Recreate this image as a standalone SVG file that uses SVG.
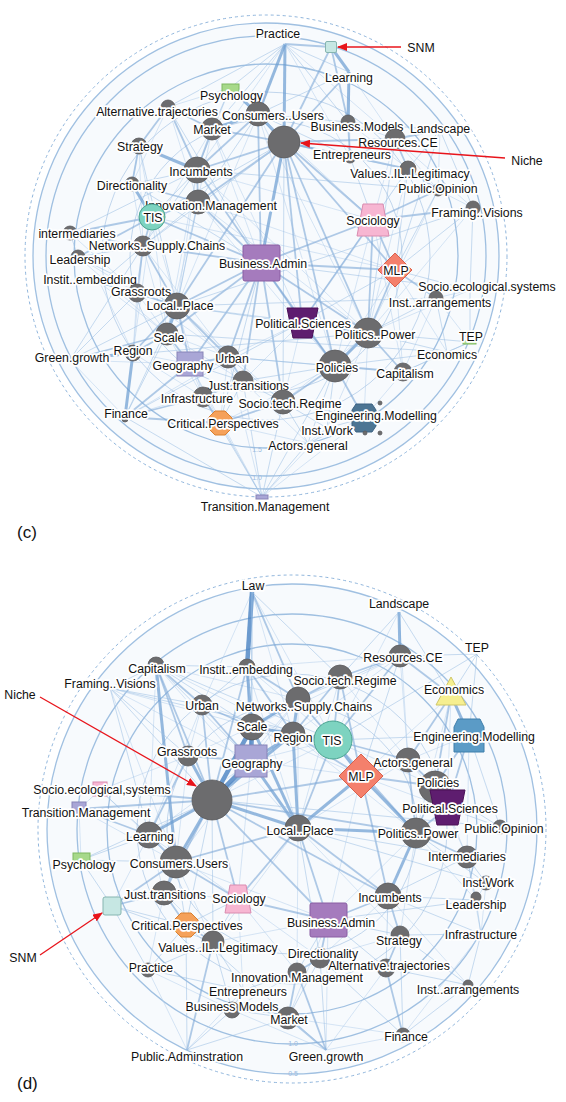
<svg xmlns="http://www.w3.org/2000/svg" width="566" height="1102" viewBox="0 0 566 1102">
<defs>
<marker id="ah" markerWidth="10" markerHeight="8" refX="9" refY="4" orient="auto" markerUnits="userSpaceOnUse"><path d="M0,0 L10,4 L0,8 Z" fill="#e8141b"/></marker>
<style>
.bg{fill:#f7fafd}
.rd{fill:none;stroke:#8fb5dc;stroke-width:1;stroke-dasharray:3 3}
.rs{fill:none;stroke:#8fb5dc;stroke-width:1.3;opacity:.85}
.rf{fill:none;stroke:#a9c6e6;stroke-width:1;opacity:.7}
.e0{stroke:#b3cfec;stroke-width:.8;opacity:.65}
.e1{stroke:#9cbfe4;stroke-width:.9;opacity:.6}
.e2{stroke:#7fa9d8;stroke-width:1.8;opacity:.6}
.e3{stroke:#6b9dd2;stroke-width:3;opacity:.7}
.e4{stroke:#4a83c3;stroke-width:4.5;opacity:.8}
.g{fill:#6c6c6e;stroke:#5b5b5d;stroke-width:.8}
.t{font-family:"Liberation Sans",Arial,sans-serif;font-size:12.3px;fill:#111;text-anchor:middle;stroke:#fff;stroke-width:3.5;stroke-linejoin:round;paint-order:stroke}
.a{font-family:"Liberation Sans",Arial,sans-serif;font-size:12.3px;fill:#111;text-anchor:middle}
.p{font-family:"Liberation Sans",Arial,sans-serif;font-size:17px;fill:#111}
.k{font-family:"Liberation Sans",Arial,sans-serif;font-size:7px;fill:#9bbbe0;text-anchor:middle}
.arr{stroke:#e8141b;stroke-width:1.3;fill:none;marker-end:url(#ah)}
.tis{fill:#7dd3c0;stroke:#4aa390}
.mlp{fill:#f4806c;stroke:#d9604c}
.ba{fill:#a57bbd;stroke:#8a5ea3}
.soc{fill:#f7b6d2;stroke:#d98cb0}
.geo{fill:#a9a6d6;stroke:#8884b8}
.pols{fill:#5e1d6f;stroke:#4a1057}
.crit{fill:#f5a15a;stroke:#d98030}
.snm{fill:#c6e7e3;stroke:#86b5b0}
.psy{fill:#a7d98a;stroke:#7fb860}
</style>
</defs>
<rect width="566" height="1102" fill="#fff"/>

<g id="rings-c">
<circle class="bg" cx="266" cy="256" r="233"/>
<circle class="rd" cx="266" cy="256" r="241"/>
<circle class="rs" cx="266" cy="256" r="233"/>
<circle class="rs" cx="266" cy="256" r="220"/>
<circle class="rs" cx="266" cy="256" r="192"/>
<circle class="rf" cx="266" cy="256" r="164"/>
<circle class="rf" cx="266" cy="256" r="136"/>
<text class="k" x="257" y="452">1.5</text>
<text class="k" x="257" y="480">1.0</text>
</g>
<g id="rings-d">
<circle class="bg" cx="292" cy="829" r="245"/>
<circle class="rd" cx="292" cy="829" r="254"/>
<circle class="rs" cx="292" cy="829" r="245"/>
<circle class="rs" cx="292" cy="829" r="215"/>
<circle class="rs" cx="292" cy="829" r="185"/>
<circle class="rf" cx="292" cy="829" r="155"/>
<circle class="rf" cx="292" cy="829" r="125"/>
<text class="k" x="293" y="1046">1.0</text>
<text class="k" x="293" y="1076">0.5</text>
</g>

<g id="connectors-c">
<path class="e0" fill="none" d="M258,114L177,306M258,114L368,333M258,114L335,366M258,114L373,220M212,129L261,263M212,129L177,306M212,129L143,246M212,129L302,322M197,170L177,306M197,170L368,333M197,170L167,334M197,170L373,220M198,202L368,333M198,202L335,366M198,202L395,270M198,202L167,334M152,217L177,306M152,217L167,334M152,217L133,353M152,217L395,270M143,246L167,334M143,246L133,353M143,246L228,357M137,293L167,334M137,293L133,353M137,293L228,357M177,306L243,381M177,306L203,397M177,306L283,402M167,334L228,357M167,334L243,381M167,334L203,397M133,353L190,364M133,353L203,397M190,364L203,397M190,364L220,423M228,357L220,423M228,357L302,322M243,381L302,322M283,402L368,333M283,402L302,322M283,402L364,418M220,423L335,366M302,322L408,169M368,333L408,169M368,333L364,418M335,366L373,220M335,366L395,270M395,270L403,372M395,270L447,352M373,220L408,169M373,220L395,139M373,220L403,372M395,139L438,190M395,139L473,208M348,122L395,139M348,122L408,169M349,72L395,139M349,72L350,157M168,107L132,184M168,107L198,202M230,88L168,107M230,88L284,142M139,146L152,217M139,146L143,246M132,184L143,246M70,233L137,293M78,257L137,293M78,257L167,334M100,283L133,353M100,283L167,334M70,360L125,417M70,360L190,364M125,417L228,357M125,417L243,381M262,497L228,357M262,497L190,364M262,497L327,428M262,497L364,418M308,443L327,428M308,443L220,423M308,443L243,381M364,418L403,372M327,428L368,333M403,372L447,352M403,372L436,298M470,342L436,298M470,290L436,298M470,290L368,333M473,208L438,190M473,208L368,333M438,190L368,333M440,130L438,190M285,44L395,139M285,44L350,157M285,44L197,170"/>
<line class="e3" x1="285" y1="44" x2="284" y2="142"/>
<line class="e3" x1="285" y1="44" x2="258" y2="114"/>
<line class="e2" x1="285" y1="44" x2="331" y2="47"/>
<line class="e3" x1="331" y1="47" x2="349" y2="72"/>
<line class="e2" x1="331" y1="47" x2="284" y2="142"/>
<line class="e2" x1="331" y1="47" x2="348" y2="122"/>
<line class="e3" x1="349" y1="72" x2="348" y2="122"/>
<line class="e2" x1="348" y1="122" x2="350" y2="157"/>
<line class="e2" x1="349" y1="72" x2="284" y2="142"/>
<line class="e3" x1="284" y1="142" x2="261" y2="263"/>
<line class="e3" x1="284" y1="142" x2="258" y2="114"/>
<line class="e2" x1="284" y1="142" x2="197" y2="170"/>
<line class="e2" x1="284" y1="142" x2="198" y2="202"/>
<line class="e2" x1="284" y1="142" x2="395" y2="139"/>
<line class="e2" x1="284" y1="142" x2="350" y2="157"/>
<line class="e2" x1="284" y1="142" x2="408" y2="169"/>
<line class="e2" x1="284" y1="142" x2="212" y2="129"/>
<line class="e2" x1="284" y1="142" x2="373" y2="220"/>
<line class="e2" x1="284" y1="142" x2="302" y2="322"/>
<line class="e2" x1="284" y1="142" x2="335" y2="366"/>
<line class="e2" x1="284" y1="142" x2="395" y2="270"/>
<line class="e2" x1="284" y1="142" x2="177" y2="306"/>
<line class="e2" x1="284" y1="142" x2="368" y2="333"/>
<line class="e1" x1="284" y1="142" x2="283" y2="402"/>
<line class="e1" x1="284" y1="142" x2="152" y2="217"/>
<line class="e1" x1="284" y1="142" x2="143" y2="246"/>
<line class="e3" x1="258" y1="114" x2="212" y2="129"/>
<line class="e3" x1="258" y1="114" x2="230" y2="88"/>
<line class="e2" x1="258" y1="114" x2="197" y2="170"/>
<line class="e3" x1="197" y1="170" x2="139" y2="146"/>
<line class="e2" x1="197" y1="170" x2="168" y2="107"/>
<line class="e2" x1="197" y1="170" x2="198" y2="202"/>
<line class="e2" x1="198" y1="202" x2="132" y2="184"/>
<line class="e2" x1="198" y1="202" x2="152" y2="217"/>
<line class="e3" x1="152" y1="217" x2="132" y2="184"/>
<line class="e2" x1="152" y1="217" x2="143" y2="246"/>
<line class="e2" x1="152" y1="217" x2="70" y2="233"/>
<line class="e2" x1="152" y1="217" x2="78" y2="257"/>
<line class="e2" x1="132" y1="184" x2="139" y2="146"/>
<line class="e2" x1="168" y1="107" x2="139" y2="146"/>
<line class="e2" x1="168" y1="107" x2="212" y2="129"/>
<line class="e2" x1="143" y1="246" x2="137" y2="293"/>
<line class="e2" x1="143" y1="246" x2="177" y2="306"/>
<line class="e3" x1="177" y1="306" x2="167" y2="334"/>
<line class="e2" x1="177" y1="306" x2="137" y2="293"/>
<line class="e2" x1="177" y1="306" x2="261" y2="263"/>
<line class="e2" x1="167" y1="334" x2="133" y2="353"/>
<line class="e2" x1="167" y1="334" x2="190" y2="364"/>
<line class="e3" x1="133" y1="353" x2="70" y2="360"/>
<line class="e3" x1="133" y1="353" x2="125" y2="417"/>
<line class="e2" x1="125" y1="417" x2="190" y2="364"/>
<line class="e2" x1="190" y1="364" x2="228" y2="357"/>
<line class="e2" x1="228" y1="357" x2="243" y2="381"/>
<line class="e2" x1="243" y1="381" x2="203" y2="397"/>
<line class="e2" x1="203" y1="397" x2="220" y2="423"/>
<line class="e2" x1="220" y1="423" x2="283" y2="402"/>
<line class="e2" x1="283" y1="402" x2="335" y2="366"/>
<line class="e3" x1="335" y1="366" x2="368" y2="333"/>
<line class="e3" x1="368" y1="333" x2="302" y2="322"/>
<line class="e2" x1="302" y1="322" x2="261" y2="263"/>
<line class="e2" x1="302" y1="322" x2="373" y2="220"/>
<line class="e2" x1="373" y1="220" x2="395" y2="270"/>
<line class="e2" x1="373" y1="220" x2="368" y2="333"/>
<line class="e2" x1="395" y1="270" x2="368" y2="333"/>
<line class="e2" x1="395" y1="270" x2="436" y2="298"/>
<line class="e1" x1="395" y1="270" x2="470" y2="290"/>
<line class="e2" x1="373" y1="220" x2="473" y2="208"/>
<line class="e2" x1="373" y1="220" x2="438" y2="190"/>
<line class="e2" x1="408" y1="169" x2="438" y2="190"/>
<line class="e2" x1="395" y1="139" x2="440" y2="130"/>
<line class="e2" x1="395" y1="139" x2="408" y2="169"/>
<line class="e2" x1="368" y1="333" x2="403" y2="372"/>
<line class="e2" x1="335" y1="366" x2="403" y2="372"/>
<line class="e2" x1="335" y1="366" x2="364" y2="418"/>
<line class="e1" x1="364" y1="418" x2="327" y2="428"/>
<line class="e1" x1="364" y1="418" x2="308" y2="443"/>
<line class="e1" x1="262" y1="497" x2="220" y2="423"/>
<line class="e1" x1="262" y1="497" x2="308" y2="443"/>
<line class="e1" x1="262" y1="497" x2="283" y2="402"/>
<line class="e1" x1="262" y1="497" x2="203" y2="397"/>
<line class="e1" x1="262" y1="497" x2="125" y2="417"/>
<line class="e1" x1="262" y1="497" x2="243" y2="381"/>
<line class="e1" x1="262" y1="497" x2="335" y2="366"/>
<line class="e1" x1="70" y1="360" x2="143" y2="246"/>
<line class="e1" x1="70" y1="360" x2="177" y2="306"/>
<line class="e2" x1="70" y1="360" x2="167" y2="334"/>
<line class="e1" x1="70" y1="360" x2="137" y2="293"/>
<line class="e2" x1="125" y1="417" x2="220" y2="423"/>
<line class="e2" x1="125" y1="417" x2="203" y2="397"/>
<line class="e1" x1="125" y1="417" x2="177" y2="306"/>
<line class="e1" x1="125" y1="417" x2="167" y2="334"/>
<line class="e2" x1="261" y1="263" x2="228" y2="357"/>
<line class="e2" x1="261" y1="263" x2="335" y2="366"/>
<line class="e2" x1="261" y1="263" x2="368" y2="333"/>
<line class="e2" x1="261" y1="263" x2="198" y2="202"/>
<line class="e2" x1="261" y1="263" x2="143" y2="246"/>
<line class="e2" x1="261" y1="263" x2="190" y2="364"/>
<line class="e2" x1="261" y1="263" x2="243" y2="381"/>
<line class="e2" x1="261" y1="263" x2="283" y2="402"/>
<line class="e2" x1="261" y1="263" x2="258" y2="114"/>
<line class="e2" x1="261" y1="263" x2="395" y2="270"/>
<line class="e2" x1="261" y1="263" x2="373" y2="220"/>
<line class="e2" x1="261" y1="263" x2="197" y2="170"/>
<line class="e2" x1="261" y1="263" x2="152" y2="217"/>
<line class="e1" x1="261" y1="263" x2="220" y2="423"/>
<line class="e2" x1="261" y1="263" x2="167" y2="334"/>
<line class="e2" x1="177" y1="306" x2="228" y2="357"/>
<line class="e2" x1="177" y1="306" x2="190" y2="364"/>
<line class="e2" x1="177" y1="306" x2="133" y2="353"/>
<line class="e1" x1="190" y1="364" x2="243" y2="381"/>
<line class="e1" x1="403" y1="372" x2="470" y2="342"/>
<line class="e1" x1="447" y1="352" x2="368" y2="333"/>
<line class="e1" x1="447" y1="352" x2="470" y2="342"/>
<line class="e1" x1="447" y1="352" x2="335" y2="366"/>
<line class="e1" x1="436" y1="298" x2="368" y2="333"/>
<line class="e1" x1="436" y1="298" x2="447" y2="352"/>
<line class="e1" x1="470" y1="290" x2="470" y2="342"/>
<line class="e1" x1="473" y1="208" x2="470" y2="290"/>
<line class="e1" x1="473" y1="208" x2="395" y2="270"/>
<line class="e1" x1="438" y1="190" x2="395" y2="270"/>
<line class="e1" x1="78" y1="257" x2="143" y2="246"/>
<line class="e1" x1="70" y1="233" x2="143" y2="246"/>
<line class="e2" x1="100" y1="283" x2="137" y2="293"/>
<line class="e1" x1="100" y1="283" x2="143" y2="246"/>
<line class="e1" x1="100" y1="283" x2="177" y2="306"/>
<line class="e1" x1="78" y1="257" x2="70" y2="233"/>
<line class="e1" x1="440" y1="130" x2="473" y2="208"/>
<line class="e1" x1="440" y1="130" x2="348" y2="122"/>
<line class="e1" x1="440" y1="130" x2="408" y2="169"/>
<line class="e1" x1="285" y1="44" x2="212" y2="129"/>
<line class="e1" x1="285" y1="44" x2="230" y2="88"/>
<line class="e1" x1="285" y1="44" x2="349" y2="72"/>
<line class="e1" x1="285" y1="44" x2="348" y2="122"/>
<line class="e1" x1="285" y1="44" x2="168" y2="107"/>
<line class="e1" x1="230" y1="88" x2="212" y2="129"/>
<line class="e1" x1="230" y1="88" x2="197" y2="170"/>
<line class="e1" x1="258" y1="114" x2="198" y2="202"/>
<line class="e1" x1="258" y1="114" x2="348" y2="122"/>
<line class="e1" x1="258" y1="114" x2="350" y2="157"/>
<line class="e1" x1="258" y1="114" x2="349" y2="72"/>
<line class="e2" x1="212" y1="129" x2="197" y2="170"/>
<line class="e1" x1="197" y1="170" x2="132" y2="184"/>
<line class="e1" x1="197" y1="170" x2="152" y2="217"/>
<line class="e1" x1="197" y1="170" x2="143" y2="246"/>
<line class="e1" x1="198" y1="202" x2="143" y2="246"/>
<line class="e1" x1="198" y1="202" x2="177" y2="306"/>
<line class="e1" x1="139" y1="146" x2="132" y2="184"/>
<line class="e1" x1="308" y1="443" x2="335" y2="366"/>
<line class="e1" x1="308" y1="443" x2="283" y2="402"/>
<line class="e1" x1="327" y1="428" x2="283" y2="402"/>
<line class="e1" x1="327" y1="428" x2="335" y2="366"/>
<line class="e1" x1="243" y1="381" x2="283" y2="402"/>
<line class="e1" x1="243" y1="381" x2="335" y2="366"/>
<line class="e1" x1="228" y1="357" x2="335" y2="366"/>
<line class="e1" x1="228" y1="357" x2="283" y2="402"/>
<line class="e1" x1="220" y1="423" x2="243" y2="381"/>
<line class="e2" x1="302" y1="322" x2="335" y2="366"/>
<line class="e1" x1="302" y1="322" x2="395" y2="270"/>
<line class="e1" x1="302" y1="322" x2="177" y2="306"/>
<line class="e1" x1="368" y1="333" x2="177" y2="306"/>
<line class="e1" x1="368" y1="333" x2="395" y2="139"/>
<line class="e1" x1="408" y1="169" x2="395" y2="270"/>
<line class="e1" x1="350" y1="157" x2="395" y2="139"/>
<line class="e1" x1="350" y1="157" x2="373" y2="220"/>
<line class="e1" x1="350" y1="157" x2="408" y2="169"/>
<line class="e1" x1="473" y1="208" x2="177" y2="306"/>
<line class="e1" x1="438" y1="190" x2="197" y2="170"/>
<line class="e1" x1="470" y1="290" x2="261" y2="263"/>
<line class="e1" x1="436" y1="298" x2="177" y2="306"/>
<line class="e1" x1="403" y1="372" x2="228" y2="357"/>
<line class="e1" x1="447" y1="352" x2="167" y2="334"/>
<line class="e1" x1="78" y1="257" x2="177" y2="306"/>
<line class="e1" x1="70" y1="233" x2="197" y2="170"/>
<line class="e1" x1="70" y1="360" x2="368" y2="333"/>
<line class="e1" x1="125" y1="417" x2="302" y2="322"/>
<line class="e1" x1="132" y1="184" x2="261" y2="263"/>
<line class="e1" x1="168" y1="107" x2="261" y2="263"/>
<line class="e1" x1="139" y1="146" x2="177" y2="306"/>
<line class="e1" x1="440" y1="130" x2="395" y2="270"/>
<line class="e1" x1="470" y1="342" x2="368" y2="333"/>
</g>

<g id="connectors-d">
<path class="e0" fill="none" d="M252,592L333,740M252,592L293,734M252,592L202,705M399,612L333,740M399,612L408,760M400,656L408,760M400,656L293,734M400,656L252,727M400,656L247,667M156,665L298,699M156,665L293,734M156,665L298,828M156,665L149,835M110,688L252,727M110,688L251,761M110,688L176,862M247,667L333,740M247,667L298,828M340,677L408,760M340,677L252,727M340,677L298,828M298,699L251,761M298,699L361,776M298,699L212,800M298,699L298,828M202,705L293,734M202,705L188,756M202,705L149,835M252,727L188,756M252,727L361,776M293,734L416,833M333,740L251,761M333,740L212,800M333,740L435,786M451,695L361,776M451,695L416,833M451,695L447,808M469,735L408,760M469,735L467,857M408,760L447,808M408,760L298,828M361,776L251,761M361,776L328,920M361,776L447,808M435,786L467,857M251,761L149,835M251,761L176,862M251,761L238,899M188,756L176,862M188,756L100,790M100,790L79,809M100,790L176,862M79,809L176,862M79,809L81,860M149,835L164,893M149,835L112,906M149,835L238,899M176,862L213,942M176,862L328,920M164,893L238,899M164,893L213,942M164,893L148,970M238,899L320,958M238,899L297,972M238,899L243,990M298,828L297,972M298,828L400,935M298,828L213,942M416,833L328,920M416,833L400,935M416,833L476,900M447,808L467,857M467,857L481,934M486,883L476,900M486,883L481,934M388,896L320,958M388,896L468,985M328,920L288,1018M328,920L326,1050M328,920L213,942M320,958L386,968M320,958L400,935M297,972L232,1010M288,1018L403,1035M326,1050L403,1035M326,1050L232,1010M187,1050L148,970M187,1050L243,990M148,970L232,1010M386,968L326,1050M403,1035L481,934"/>
<line class="e4" x1="252" y1="592" x2="247" y2="667"/>
<line class="e2" x1="252" y1="592" x2="298" y2="699"/>
<line class="e1" x1="252" y1="592" x2="340" y2="677"/>
<line class="e1" x1="252" y1="592" x2="251" y2="761"/>
<line class="e1" x1="252" y1="592" x2="252" y2="727"/>
<line class="e3" x1="399" y1="612" x2="400" y2="656"/>
<line class="e1" x1="399" y1="612" x2="340" y2="677"/>
<line class="e1" x1="399" y1="612" x2="451" y2="695"/>
<line class="e2" x1="400" y1="656" x2="340" y2="677"/>
<line class="e2" x1="400" y1="656" x2="451" y2="695"/>
<line class="e2" x1="400" y1="656" x2="333" y2="740"/>
<line class="e1" x1="400" y1="656" x2="298" y2="699"/>
<line class="e1" x1="400" y1="656" x2="361" y2="776"/>
<line class="e1" x1="477" y1="654" x2="451" y2="695"/>
<line class="e1" x1="477" y1="654" x2="469" y2="735"/>
<line class="e1" x1="477" y1="654" x2="400" y2="656"/>
<line class="e1" x1="477" y1="654" x2="333" y2="740"/>
<line class="e2" x1="156" y1="665" x2="188" y2="756"/>
<line class="e3" x1="156" y1="665" x2="176" y2="862"/>
<line class="e2" x1="156" y1="665" x2="202" y2="705"/>
<line class="e2" x1="156" y1="665" x2="212" y2="800"/>
<line class="e1" x1="156" y1="665" x2="252" y2="727"/>
<line class="e1" x1="156" y1="665" x2="251" y2="761"/>
<line class="e1" x1="156" y1="665" x2="110" y2="688"/>
<line class="e1" x1="156" y1="665" x2="333" y2="740"/>
<line class="e1" x1="156" y1="665" x2="247" y2="667"/>
<line class="e1" x1="110" y1="688" x2="202" y2="705"/>
<line class="e1" x1="110" y1="688" x2="188" y2="756"/>
<line class="e1" x1="110" y1="688" x2="212" y2="800"/>
<line class="e1" x1="110" y1="688" x2="149" y2="835"/>
<line class="e1" x1="110" y1="688" x2="333" y2="740"/>
<line class="e3" x1="247" y1="667" x2="252" y2="727"/>
<line class="e2" x1="247" y1="667" x2="298" y2="699"/>
<line class="e2" x1="247" y1="667" x2="293" y2="734"/>
<line class="e2" x1="247" y1="667" x2="251" y2="761"/>
<line class="e1" x1="247" y1="667" x2="202" y2="705"/>
<line class="e2" x1="247" y1="667" x2="212" y2="800"/>
<line class="e2" x1="340" y1="677" x2="298" y2="699"/>
<line class="e2" x1="340" y1="677" x2="333" y2="740"/>
<line class="e2" x1="340" y1="677" x2="361" y2="776"/>
<line class="e2" x1="340" y1="677" x2="293" y2="734"/>
<line class="e3" x1="298" y1="699" x2="252" y2="727"/>
<line class="e3" x1="298" y1="699" x2="293" y2="734"/>
<line class="e2" x1="298" y1="699" x2="333" y2="740"/>
<line class="e2" x1="202" y1="705" x2="252" y2="727"/>
<line class="e2" x1="202" y1="705" x2="251" y2="761"/>
<line class="e2" x1="202" y1="705" x2="212" y2="800"/>
<line class="e4" x1="252" y1="727" x2="251" y2="761"/>
<line class="e3" x1="252" y1="727" x2="293" y2="734"/>
<line class="e4" x1="252" y1="727" x2="212" y2="800"/>
<line class="e2" x1="252" y1="727" x2="333" y2="740"/>
<line class="e3" x1="252" y1="727" x2="298" y2="828"/>
<line class="e3" x1="293" y1="734" x2="333" y2="740"/>
<line class="e3" x1="293" y1="734" x2="251" y2="761"/>
<line class="e3" x1="293" y1="734" x2="298" y2="828"/>
<line class="e3" x1="293" y1="734" x2="212" y2="800"/>
<line class="e2" x1="293" y1="734" x2="361" y2="776"/>
<line class="e3" x1="333" y1="740" x2="361" y2="776"/>
<line class="e2" x1="333" y1="740" x2="408" y2="760"/>
<line class="e2" x1="333" y1="740" x2="298" y2="828"/>
<line class="e2" x1="333" y1="740" x2="416" y2="833"/>
<line class="e3" x1="451" y1="695" x2="469" y2="735"/>
<line class="e2" x1="451" y1="695" x2="408" y2="760"/>
<line class="e2" x1="451" y1="695" x2="435" y2="786"/>
<line class="e2" x1="469" y1="735" x2="435" y2="786"/>
<line class="e2" x1="469" y1="735" x2="447" y2="808"/>
<line class="e1" x1="469" y1="735" x2="500" y2="827"/>
<line class="e1" x1="469" y1="735" x2="333" y2="740"/>
<line class="e2" x1="408" y1="760" x2="361" y2="776"/>
<line class="e2" x1="408" y1="760" x2="435" y2="786"/>
<line class="e2" x1="408" y1="760" x2="416" y2="833"/>
<line class="e2" x1="361" y1="776" x2="435" y2="786"/>
<line class="e3" x1="361" y1="776" x2="416" y2="833"/>
<line class="e3" x1="361" y1="776" x2="298" y2="828"/>
<line class="e2" x1="361" y1="776" x2="212" y2="800"/>
<line class="e2" x1="361" y1="776" x2="388" y2="896"/>
<line class="e4" x1="251" y1="761" x2="212" y2="800"/>
<line class="e3" x1="251" y1="761" x2="298" y2="828"/>
<line class="e2" x1="251" y1="761" x2="188" y2="756"/>
<line class="e3" x1="188" y1="756" x2="212" y2="800"/>
<line class="e2" x1="188" y1="756" x2="149" y2="835"/>
<line class="e3" x1="212" y1="800" x2="298" y2="828"/>
<line class="e3" x1="212" y1="800" x2="149" y2="835"/>
<line class="e3" x1="212" y1="800" x2="176" y2="862"/>
<line class="e2" x1="212" y1="800" x2="100" y2="790"/>
<line class="e2" x1="212" y1="800" x2="79" y2="809"/>
<line class="e1" x1="212" y1="800" x2="81" y2="860"/>
<line class="e2" x1="212" y1="800" x2="164" y2="893"/>
<line class="e2" x1="212" y1="800" x2="238" y2="899"/>
<line class="e2" x1="212" y1="800" x2="328" y2="920"/>
<line class="e2" x1="212" y1="800" x2="416" y2="833"/>
<line class="e2" x1="212" y1="800" x2="388" y2="896"/>
<line class="e1" x1="212" y1="800" x2="213" y2="942"/>
<line class="e1" x1="212" y1="800" x2="186" y2="925"/>
<line class="e1" x1="100" y1="790" x2="149" y2="835"/>
<line class="e2" x1="79" y1="809" x2="149" y2="835"/>
<line class="e2" x1="149" y1="835" x2="176" y2="862"/>
<line class="e1" x1="81" y1="860" x2="176" y2="862"/>
<line class="e1" x1="81" y1="860" x2="149" y2="835"/>
<line class="e2" x1="176" y1="862" x2="164" y2="893"/>
<line class="e2" x1="176" y1="862" x2="112" y2="906"/>
<line class="e2" x1="176" y1="862" x2="238" y2="899"/>
<line class="e2" x1="176" y1="862" x2="298" y2="828"/>
<line class="e1" x1="176" y1="862" x2="186" y2="925"/>
<line class="e2" x1="164" y1="893" x2="112" y2="906"/>
<line class="e2" x1="164" y1="893" x2="186" y2="925"/>
<line class="e1" x1="112" y1="906" x2="148" y2="970"/>
<line class="e1" x1="112" y1="906" x2="213" y2="942"/>
<line class="e1" x1="112" y1="906" x2="186" y2="925"/>
<line class="e1" x1="112" y1="906" x2="81" y2="860"/>
<line class="e3" x1="298" y1="828" x2="416" y2="833"/>
<line class="e2" x1="298" y1="828" x2="328" y2="920"/>
<line class="e2" x1="298" y1="828" x2="388" y2="896"/>
<line class="e2" x1="298" y1="828" x2="238" y2="899"/>
<line class="e1" x1="298" y1="828" x2="320" y2="958"/>
<line class="e2" x1="416" y1="833" x2="447" y2="808"/>
<line class="e3" x1="416" y1="833" x2="388" y2="896"/>
<line class="e2" x1="416" y1="833" x2="467" y2="857"/>
<line class="e2" x1="416" y1="833" x2="435" y2="786"/>
<line class="e1" x1="416" y1="833" x2="486" y2="883"/>
<line class="e2" x1="447" y1="808" x2="435" y2="786"/>
<line class="e1" x1="447" y1="808" x2="500" y2="827"/>
<line class="e1" x1="467" y1="857" x2="486" y2="883"/>
<line class="e1" x1="467" y1="857" x2="476" y2="900"/>
<line class="e1" x1="467" y1="857" x2="388" y2="896"/>
<line class="e2" x1="388" y1="896" x2="328" y2="920"/>
<line class="e2" x1="388" y1="896" x2="400" y2="935"/>
<line class="e1" x1="388" y1="896" x2="476" y2="900"/>
<line class="e1" x1="388" y1="896" x2="481" y2="934"/>
<line class="e1" x1="388" y1="896" x2="386" y2="968"/>
<line class="e2" x1="328" y1="920" x2="320" y2="958"/>
<line class="e1" x1="328" y1="920" x2="400" y2="935"/>
<line class="e2" x1="328" y1="920" x2="238" y2="899"/>
<line class="e1" x1="328" y1="920" x2="297" y2="972"/>
<line class="e1" x1="328" y1="920" x2="386" y2="968"/>
<line class="e1" x1="238" y1="899" x2="186" y2="925"/>
<line class="e1" x1="238" y1="899" x2="213" y2="942"/>
<line class="e2" x1="213" y1="942" x2="186" y2="925"/>
<line class="e1" x1="213" y1="942" x2="148" y2="970"/>
<line class="e2" x1="213" y1="942" x2="187" y2="1050"/>
<line class="e1" x1="213" y1="942" x2="243" y2="990"/>
<line class="e1" x1="213" y1="942" x2="232" y2="1010"/>
<line class="e2" x1="320" y1="958" x2="297" y2="972"/>
<line class="e1" x1="320" y1="958" x2="288" y2="1018"/>
<line class="e1" x1="320" y1="958" x2="326" y2="1050"/>
<line class="e2" x1="400" y1="935" x2="386" y2="968"/>
<line class="e2" x1="386" y1="968" x2="403" y2="1035"/>
<line class="e1" x1="386" y1="968" x2="468" y2="985"/>
<line class="e1" x1="400" y1="935" x2="403" y2="1035"/>
<line class="e1" x1="400" y1="935" x2="468" y2="985"/>
<line class="e1" x1="481" y1="934" x2="468" y2="985"/>
<line class="e1" x1="481" y1="934" x2="476" y2="900"/>
<line class="e1" x1="481" y1="934" x2="400" y2="935"/>
<line class="e2" x1="297" y1="972" x2="288" y2="1018"/>
<line class="e1" x1="297" y1="972" x2="243" y2="990"/>
<line class="e1" x1="243" y1="990" x2="232" y2="1010"/>
<line class="e1" x1="232" y1="1010" x2="288" y2="1018"/>
<line class="e2" x1="288" y1="1018" x2="326" y2="1050"/>
<line class="e2" x1="297" y1="972" x2="326" y2="1050"/>
<line class="e1" x1="148" y1="970" x2="186" y2="925"/>
<line class="e1" x1="148" y1="970" x2="243" y2="990"/>
<line class="e1" x1="187" y1="1050" x2="232" y2="1010"/>
<line class="e1" x1="187" y1="1050" x2="288" y2="1018"/>
<line class="e1" x1="403" y1="1035" x2="468" y2="985"/>
<line class="e1" x1="403" y1="1035" x2="320" y2="958"/>
<line class="e1" x1="500" y1="827" x2="212" y2="800"/>
<line class="e1" x1="467" y1="857" x2="298" y2="828"/>
<line class="e1" x1="486" y1="883" x2="298" y2="828"/>
<line class="e1" x1="476" y1="900" x2="328" y2="920"/>
<line class="e1" x1="500" y1="827" x2="435" y2="786"/>
<line class="e1" x1="326" y1="1050" x2="186" y2="925"/>
<line class="e1" x1="187" y1="1050" x2="186" y2="925"/>
</g>

<g id="c-practice"><text class="t" x="278" y="37.5">Practice</text></g>
<g id="c-snm"><rect class="snm" x="325.5" y="41.5" width="11" height="11" rx="1.5"/></g>
<g id="c-learning"><text class="t" x="349" y="81.5">Learning</text></g>
<g id="c-psychology"><rect class="psy" x="222" y="84" width="17" height="9"/><text class="t" x="231.5" y="99.5">Psychology</text></g>
<g id="c-alternative-trajectories"><circle class="g" cx="168" cy="107" r="7"/><text class="t" x="157" y="115.5">Alternative.trajectories</text></g>
<g id="c-consumers-users"><circle class="g" cx="258" cy="114" r="12"/><text class="t" x="273" y="119.5">Consumers..Users</text></g>
<g id="c-market"><circle class="g" cx="212" cy="129" r="11"/><text class="t" x="212" y="133.5">Market</text></g>
<g id="c-business-models"><circle class="g" cx="348" cy="122" r="7"/><text class="t" x="357" y="130.5">Business.Models</text></g>
<g id="c-landscape"><text class="t" x="440" y="132.5">Landscape</text></g>
<g id="c-niche"><circle class="g" cx="284" cy="142" r="16"/></g>
<g id="c-resources-ce"><circle class="g" cx="395" cy="139" r="10"/><text class="t" x="398" y="146.5">Resources.CE</text></g>
<g id="c-entrepreneurs"><circle class="g" cx="350" cy="157" r="6"/><text class="t" x="352" y="158.5">Entrepreneurs</text></g>
<g id="c-strategy"><circle class="g" cx="139" cy="146" r="8"/><text class="t" x="140" y="150.5">Strategy</text></g>
<g id="c-incumbents"><circle class="g" cx="197" cy="170" r="13"/><text class="t" x="201" y="175.5">Incumbents</text></g>
<g id="c-values"><circle class="g" cx="408" cy="169" r="8"/><text class="t" x="410" y="177.5">Values..IL..Legitimacy</text></g>
<g id="c-public-opinion"><circle class="g" cx="438" cy="190" r="6"/><text class="t" x="438" y="192.5">Public.Opinion</text></g>
<g id="c-directionality"><circle class="g" cx="132" cy="184" r="7"/><text class="t" x="132" y="189.5">Directionality</text></g>
<g id="c-innovation-management"><circle class="g" cx="198" cy="202" r="12"/><text class="t" x="211" y="209.5">Innovation.Management</text></g>
<g id="c-framing-visions"><circle class="g" cx="473" cy="208" r="7"/><text class="t" x="477" y="216.5">Framing..Visions</text></g>
<g id="c-tis"><circle class="tis" cx="152" cy="217" r="13"/><text class="t" x="153" y="221.5">TIS</text></g>
<g id="c-sociology"><polygon class="soc" points="363,204 383,204 389,236 357,236"/><text class="t" x="373" y="224.5">Sociology</text></g>
<g id="c-intermediaries"><circle class="g" cx="70" cy="233" r="7"/><text class="t" x="77" y="237.5">intermediaries</text></g>
<g id="c-networks"><circle class="g" cx="143" cy="246" r="10"/><text class="t" x="157" y="249.5">Networks..Supply.Chains</text></g>
<g id="c-business-admin"><rect class="ba" x="243" y="245" width="37" height="36" rx="2"/><text class="t" x="263" y="267.5">Business.Admin</text></g>
<g id="c-leadership"><circle class="g" cx="78" cy="257" r="7"/><text class="t" x="80" y="263.5">Leadership</text></g>
<g id="c-mlp"><polygon class="mlp" points="395,253 412,270 395,287 378,270"/><text class="t" x="396" y="274.5">MLP</text></g>
<g id="c-instit-embedding"><text class="t" x="90" y="283.5">Instit..embedding</text></g>
<g id="c-socio-ecological"><text class="t" x="487" y="290.5">Socio.ecological.systems</text></g>
<g id="c-grassroots"><circle class="g" cx="137" cy="293" r="9"/><text class="t" x="141" y="295.5">Grassroots</text></g>
<g id="c-local-place"><circle class="g" cx="177" cy="306" r="13"/><text class="t" x="180" y="309.5">Local..Place</text></g>
<g id="c-inst-arrangements"><circle class="g" cx="436" cy="298" r="7"/><text class="t" x="440" y="306.5">Inst..arrangements</text></g>
<g id="c-political-sciences"><polygon class="pols" points="287,308 318,308 312,338 293,338"/><text class="t" x="303" y="327.5">Political.Sciences</text></g>
<g id="c-politics-power"><circle class="g" cx="368" cy="333" r="15"/><text class="t" x="375" y="338.5">Politics..Power</text></g>
<g id="c-scale"><circle class="g" cx="167" cy="334" r="11"/><text class="t" x="169" y="341.5">Scale</text></g>
<g id="c-tep"><rect class="psy" x="463" y="341" width="13" height="3"/><text class="t" x="471" y="340.5">TEP</text></g>
<g id="c-region"><circle class="g" cx="133" cy="353" r="8"/><text class="t" x="133" y="354.5">Region</text></g>
<g id="c-green-growth"><text class="t" x="72" y="361.5">Green.growth</text></g>
<g id="c-geography"><rect class="geo" x="177" y="352" width="26" height="24"/><text class="t" x="183" y="369.5">Geography</text></g>
<g id="c-urban"><circle class="g" cx="228" cy="357" r="11"/><text class="t" x="232" y="362.5">Urban</text></g>
<g id="c-policies"><circle class="g" cx="335" cy="366" r="16"/><text class="t" x="337" y="371.5">Policies</text></g>
<g id="c-economics"><text class="t" x="447" y="358.5">Economics</text></g>
<g id="c-capitalism"><circle class="g" cx="403" cy="372" r="9"/><text class="t" x="405" y="377.5">Capitalism</text></g>
<g id="c-just-transitions"><circle class="g" cx="243" cy="381" r="10"/><text class="t" x="248" y="389.5">Just.transitions</text></g>
<g id="c-finance"><circle class="g" cx="125" cy="419" r="3"/><text class="t" x="126" y="417.5">Finance</text></g>
<g id="c-infrastructure"><circle class="g" cx="203" cy="397" r="10"/><text class="t" x="197" y="402.5">Infrastructure</text></g>
<g id="c-socio-tech-regime"><circle class="g" cx="283" cy="402" r="12"/><text class="t" x="290" y="407.5">Socio.tech.Regime</text></g>
<g id="c-critical-perspectives"><polygon class="crit" points="232,428 225,435 215,435 208,428 208,418 215,411 225,411 232,418"/><text class="t" x="223" y="427.5">Critical.Perspectives</text></g>
<g id="c-engineering-modelling"><polygon fill="#4d7593" stroke="#3c6282" points="356,404 372,404 376,410 376,426 372,432 356,432 352,426 352,410"/><circle class="g" cx="380" cy="403" r="2"/><circle class="g" cx="365" cy="433" r="2"/><circle class="g" cx="380" cy="433" r="2"/><text class="t" x="376" y="420">Engineering.Modelling</text></g>
<g id="c-inst-work"><text class="t" x="327" y="434.5">Inst.Work</text></g>
<g id="c-actors-general"><text class="t" x="308" y="449.5">Actors.general</text></g>
<g id="c-transition-management"><rect class="geo" x="256" y="495" width="12" height="4"/><text class="t" x="265" y="510.5">Transition.Management</text></g>

<g id="d-law"><text class="t" x="253" y="589.5">Law</text></g>
<g id="d-landscape"><text class="t" x="399" y="608">Landscape</text></g>
<g id="d-tep"><text class="t" x="477" y="651.5">TEP</text></g>
<g id="d-resources-ce"><circle class="g" cx="400" cy="656" r="11"/><text class="t" x="403" y="661.5">Resources.CE</text></g>
<g id="d-capitalism"><circle class="g" cx="156" cy="665" r="8"/><text class="t" x="157" y="672.5">Capitalism</text></g>
<g id="d-instit-embedding"><circle class="g" cx="247" cy="667" r="8"/><text class="t" x="246" y="673.5">Instit..embedding</text></g>
<g id="d-framing-visions"><text class="t" x="110" y="687.5">Framing..Visions</text></g>
<g id="d-socio-tech-regime"><circle class="g" cx="340" cy="677" r="12"/><text class="t" x="345" y="684.5">Socio.tech.Regime</text></g>
<g id="d-economics"><polygon fill="#f6ef90" stroke="#cfc66a" points="451,677 466,705 436,705"/><text class="t" x="454" y="693.5">Economics</text></g>
<g id="d-networks"><circle class="g" cx="298" cy="699" r="12"/><text class="t" x="304" y="710.5">Networks..Supply.Chains</text></g>
<g id="d-urban"><circle class="g" cx="202" cy="705" r="10"/><text class="t" x="202" y="709.5">Urban</text></g>
<g id="d-scale"><circle class="g" cx="252" cy="727" r="13"/><text class="t" x="252" y="730.5">Scale</text></g>
<g id="d-region"><circle class="g" cx="293" cy="734" r="12"/><text class="t" x="293" y="741.5">Region</text></g>
<g id="d-tis"><circle class="tis" cx="333" cy="740" r="19"/><text class="t" x="332" y="744.5">TIS</text></g>
<g id="d-engineering-modelling"><polygon fill="#5b9bc6" stroke="#3f7fab" points="458,719 480,719 484,727 484,752 454,752 454,727"/><text class="t" x="474" y="740.5">Engineering.Modelling</text></g>
<g id="d-geography"><rect class="geo" x="235" y="745" width="32" height="32"/><text class="t" x="252" y="767.5">Geography</text></g>
<g id="d-grassroots"><circle class="g" cx="188" cy="756" r="10"/><text class="t" x="187" y="756">Grassroots</text></g>
<g id="d-actors-general"><circle class="g" cx="408" cy="760" r="12"/><text class="t" x="413" y="766.5">Actors.general</text></g>
<g id="d-mlp"><polygon class="mlp" points="361,754 383,776 361,798 339,776"/><text class="t" x="361" y="781">MLP</text></g>
<g id="d-policies"><circle class="g" cx="435" cy="787" r="16"/><text class="t" x="438" y="786.5">Policies</text></g>
<g id="d-niche"><circle class="g" cx="212" cy="800" r="20"/></g>
<g id="d-socio-ecological"><rect class="soc" x="93" y="782" width="14" height="14"/><text class="t" x="102" y="793.5">Socio.ecological,systems</text></g>
<g id="d-political-sciences"><polygon class="pols" points="430,790 465,790 458,825 437,825"/><text class="t" x="450" y="812.5">Political.Sciences</text></g>
<g id="d-transition-management"><rect class="geo" x="72" y="802" width="14" height="13"/><text class="t" x="86" y="816.5">Transition.Management</text></g>
<g id="d-local-place"><circle class="g" cx="298" cy="828" r="13"/><text class="t" x="300" y="834.5">Local..Place</text></g>
<g id="d-politics-power"><circle class="g" cx="416" cy="833" r="15"/><text class="t" x="418" y="837.5">Politics..Power</text></g>
<g id="d-learning"><circle class="g" cx="149" cy="835" r="13"/><text class="t" x="150" y="840.5">Learning</text></g>
<g id="d-public-opinion"><circle class="g" cx="500" cy="827" r="7"/><text class="t" x="504" y="832.5">Public.Opinion</text></g>
<g id="d-intermediaries"><circle class="g" cx="467" cy="857" r="11"/><text class="t" x="467" y="860.5">Intermediaries</text></g>
<g id="d-psychology"><rect class="psy" x="73" y="853" width="17" height="12"/><text class="t" x="84" y="868.5">Psychology</text></g>
<g id="d-consumers-users"><circle class="g" cx="176" cy="862" r="16"/><text class="t" x="179" y="867.5">Consumers.Users</text></g>
<g id="d-inst-work"><circle class="g" cx="486" cy="883" r="7"/><text class="t" x="488" y="886.5">Inst.Work</text></g>
<g id="d-incumbents"><circle class="g" cx="388" cy="896" r="13"/><text class="t" x="390" y="901.5">Incumbents</text></g>
<g id="d-leadership"><circle class="g" cx="476" cy="897" r="5"/><text class="t" x="476" y="908.5">Leadership</text></g>
<g id="d-snm"><rect class="snm" x="103" y="897" width="18" height="18" rx="2"/></g>
<g id="d-just-transitions"><circle class="g" cx="164" cy="893" r="12"/><text class="t" x="165" y="898.5">Just.transitions</text></g>
<g id="d-sociology"><polygon class="soc" points="230,885 246,885 251,913 225,913"/><text class="t" x="239" y="902.5">Sociology</text></g>
<g id="d-business-admin"><rect class="ba" x="310" y="903" width="37" height="34" rx="2"/><text class="t" x="331" y="926.5">Business.Admin</text></g>
<g id="d-critical-perspectives"><polygon class="crit" points="198,930 191,937 181,937 174,930 174,920 181,913 191,913 198,920"/><text class="t" x="187" y="929.5">Critical.Perspectives</text></g>
<g id="d-infrastructure"><text class="t" x="481" y="938.5">Infrastructure</text></g>
<g id="d-values"><circle class="g" cx="213" cy="942" r="11"/><text class="t" x="218" y="951.5">Values..IL..Legitimacy</text></g>
<g id="d-strategy"><circle class="g" cx="400" cy="935" r="9"/><text class="t" x="399" y="944.5">Strategy</text></g>
<g id="d-directionality"><circle class="g" cx="320" cy="958" r="10"/><text class="t" x="323" y="957.5">Directionality</text></g>
<g id="d-practice"><circle class="g" cx="148" cy="970" r="7"/><text class="t" x="151" y="971.5">Practice</text></g>
<g id="d-alternative-trajectories"><circle class="g" cx="386" cy="968" r="9"/><text class="t" x="389" y="969.5">Alternative.trajectories</text></g>
<g id="d-innovation-management"><circle class="g" cx="297" cy="972" r="9"/><text class="t" x="297" y="982">Innovation.Management</text></g>
<g id="d-inst-arrangements"><circle class="g" cx="468" cy="985" r="5"/><text class="t" x="468" y="993.5">Inst..arrangements</text></g>
<g id="d-entrepreneurs"><text class="t" x="248" y="995.5">Entrepreneurs</text></g>
<g id="d-business-models"><circle class="g" cx="232" cy="1010" r="8"/><text class="t" x="232" y="1011">Business Models</text></g>
<g id="d-market"><circle class="g" cx="288" cy="1018" r="11"/><text class="t" x="289" y="1023.5">Market</text></g>
<g id="d-finance"><circle class="g" cx="403" cy="1035" r="7"/><text class="t" x="406" y="1040.5">Finance</text></g>
<g id="d-public-adminstration"><text class="t" x="187" y="1060.5">Public.Adminstration</text></g>
<g id="d-green-growth"><text class="t" x="326" y="1060.5">Green.growth</text></g>

<g id="annotations">
<line class="arr" x1="401" y1="47" x2="338" y2="47"/>
<text class="a" x="421" y="51.5">SNM</text>
<line class="arr" x1="505" y1="158" x2="301" y2="143"/>
<text class="a" x="527" y="164.5">Niche</text>
<line class="arr" x1="40" y1="697" x2="196" y2="786"/>
<text class="a" x="20" y="698.5">Niche</text>
<line class="arr" x1="40" y1="955" x2="102" y2="913"/>
<text class="a" x="23" y="961.5">SNM</text>
<text class="p" x="17" y="538">(c)</text>
<text class="p" x="17" y="1089">(d)</text>
</g>
</svg>
